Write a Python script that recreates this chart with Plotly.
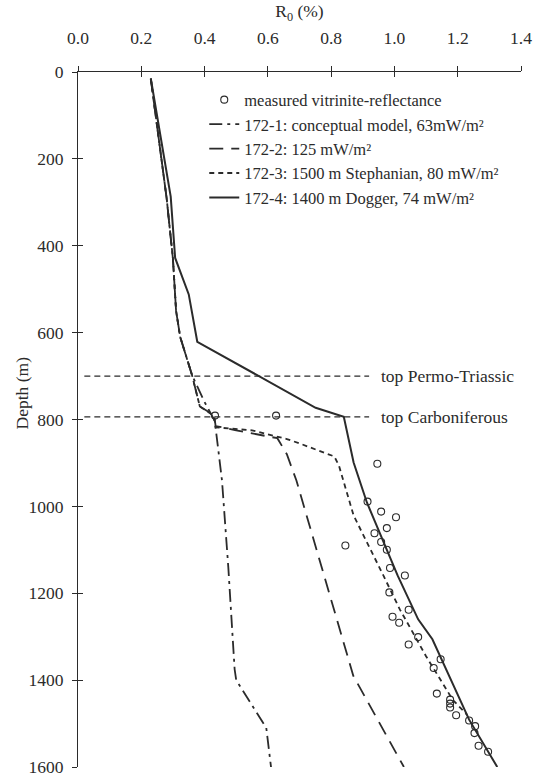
import plotly.graph_objects as go

# ---- data (R0 in %, depth in m) ----
meas_r0 = [0.433, 0.626, 0.946, 0.915, 0.958, 1.005, 0.976, 0.937, 0.845, 0.958, 0.976,
           0.986, 1.033, 0.984, 1.045, 0.994, 1.015, 1.075, 1.045, 1.146, 1.124, 1.134,
           1.176, 1.176, 1.176, 1.195, 1.236, 1.255, 1.253, 1.266, 1.296]
meas_depth = [791, 791, 902, 989, 1012, 1025, 1050, 1062, 1090, 1082, 1100,
              1142, 1159, 1198, 1238, 1254, 1268, 1301, 1318, 1352, 1372, 1431,
              1445, 1454, 1463, 1481, 1493, 1506, 1522, 1551, 1565]

m1_r0 = [0.23, 0.265, 0.28, 0.30, 0.31, 0.323, 0.36, 0.40, 0.43, 0.435, 0.44, 0.455, 0.475, 0.495, 0.50, 0.595, 0.61]
m1_depth = [15, 200, 290, 430, 550, 610, 697, 760, 800, 820, 850, 940, 1140, 1375, 1400, 1510, 1600]

m2_r0 = [0.23, 0.265, 0.28, 0.30, 0.31, 0.323, 0.36, 0.385, 0.43, 0.435, 0.50, 0.63, 0.66, 0.69, 0.78, 0.87, 1.03]
m2_depth = [15, 200, 290, 430, 550, 610, 697, 770, 790, 815, 825, 843, 880, 940, 1165, 1390, 1600]

m3_r0 = [0.23, 0.265, 0.28, 0.30, 0.31, 0.323, 0.36, 0.385, 0.43, 0.435, 0.55, 0.66, 0.70, 0.78, 0.81, 0.825, 0.871, 0.965, 1.017, 1.10, 1.184, 1.23]
m3_depth = [15, 200, 290, 430, 550, 610, 697, 770, 792, 818, 825, 845, 855, 877, 885, 907, 1021, 1159, 1237, 1345, 1445, 1480]

m4_r0 = [0.23, 0.293, 0.307, 0.35, 0.377, 0.569, 0.751, 0.84, 0.871, 0.913, 1.01, 1.075, 1.12, 1.236, 1.325]
m4_depth = [15, 287, 428, 512, 621, 699, 773, 794, 899, 991, 1159, 1260, 1306, 1491, 1600]

horizon_names = ["top Permo-Triassic", "top Carboniferous"]
horizon_depth = [700, 794]
horizon_r0_range = [0.02, 0.92]

legend_names = ["measured vitrinite-reflectance",
                "172-1: conceptual model, 63mW/m²",
                "172-2: 125 mW/m²",
                "172-3: 1500 m Stephanian, 80 mW/m²",
                "172-4: 1400 m Dogger, 74 mW/m²"]

x_ticks = [0.0, 0.2, 0.4, 0.6, 0.8, 1.0, 1.2, 1.4]
y_ticks = [0, 200, 400, 600, 800, 1000, 1200, 1400, 1600]

INK = "#2b2b2b"
FONT = "Liberation Serif"
FS = 17.5

fig = go.Figure()

# horizon lines
for name, d in zip(horizon_names, horizon_depth):
    fig.add_trace(go.Scatter(x=horizon_r0_range, y=[d, d], mode="lines",
                             line=dict(color=INK, width=1.2, dash="6px,4px"),
                             showlegend=False, hoverinfo="skip"))
    fig.add_annotation(x=0.95, y=d, text=name, showarrow=False, xanchor="left",
                       yanchor="middle", font=dict(family=FONT, size=FS, color=INK))

fig.add_trace(go.Scatter(x=meas_r0, y=meas_depth, mode="markers", name=legend_names[0],
                         marker=dict(symbol="circle-open", size=7, color=INK, line=dict(width=1.1))))
fig.add_trace(go.Scatter(x=m1_r0, y=m1_depth, mode="lines", name=legend_names[1],
                         line=dict(color=INK, width=1.8, dash="13px,5px,3px,5px")))
fig.add_trace(go.Scatter(x=m2_r0, y=m2_depth, mode="lines", name=legend_names[2],
                         line=dict(color=INK, width=1.8, dash="14px,8px")))
fig.add_trace(go.Scatter(x=m3_r0, y=m3_depth, mode="lines", name=legend_names[3],
                         line=dict(color=INK, width=1.8, dash="5px,4px")))
fig.add_trace(go.Scatter(x=m4_r0, y=m4_depth, mode="lines", name=legend_names[4],
                         line=dict(color=INK, width=2)))
# dummy trace to draw the overlay axes (inner tick halves)
fig.add_trace(go.Scatter(x=[], y=[], xaxis="x2", yaxis="y2", showlegend=False))

axis_common = dict(showgrid=False, zeroline=False, showline=True, linecolor=INK, linewidth=1.2,
                   tickcolor=INK, tickwidth=1.2, ticklen=5, automargin=False,
                   ticklabeloverflow="allow",
                   tickfont=dict(family=FONT, size=FS, color=INK))

fig.update_layout(
    width=539, height=776,
    margin=dict(l=78, r=18, t=72, b=9),
    paper_bgcolor="white", plot_bgcolor="white",
    font=dict(family=FONT, size=FS, color=INK),
    xaxis=dict(range=[0, 1.4], side="top", tickvals=x_ticks,
               ticktext=[f"{v:.1f}" for v in x_ticks], ticks="outside",
               ticklabelstandoff=15,
               title=dict(text="R<sub>0</sub> (%)", standoff=5,
                          font=dict(family=FONT, size=FS, color=INK)),
               **axis_common),
    yaxis=dict(range=[1600, 0], tickvals=y_ticks, ticks="outside", ticklabelstandoff=5,
               **axis_common),
    xaxis2=dict(range=[0, 1.4], overlaying="x", side="top", tickvals=x_ticks, ticks="inside",
                showticklabels=False, showgrid=False, zeroline=False, showline=False,
                tickcolor=INK, tickwidth=1.2, ticklen=5, automargin=False),
    yaxis2=dict(range=[1600, 0], overlaying="y", side="left", tickvals=y_ticks, ticks="inside",
                showticklabels=False, showgrid=False, zeroline=False, showline=False,
                tickcolor=INK, tickwidth=1.2, ticklen=5, automargin=False),
    legend=dict(x=0.285, y=0.985, xanchor="left", yanchor="top", bgcolor="rgba(0,0,0,0)",
                borderwidth=0, tracegroupgap=0, font=dict(family=FONT, size=16.5, color=INK)),
    showlegend=True,
)

fig.add_annotation(xref="paper", yref="y", x=0, xshift=-68, y=740, text="Depth (m)",
                   textangle=-90, showarrow=False, font=dict(family=FONT, size=FS, color=INK))

fig.write_html("out.html")
